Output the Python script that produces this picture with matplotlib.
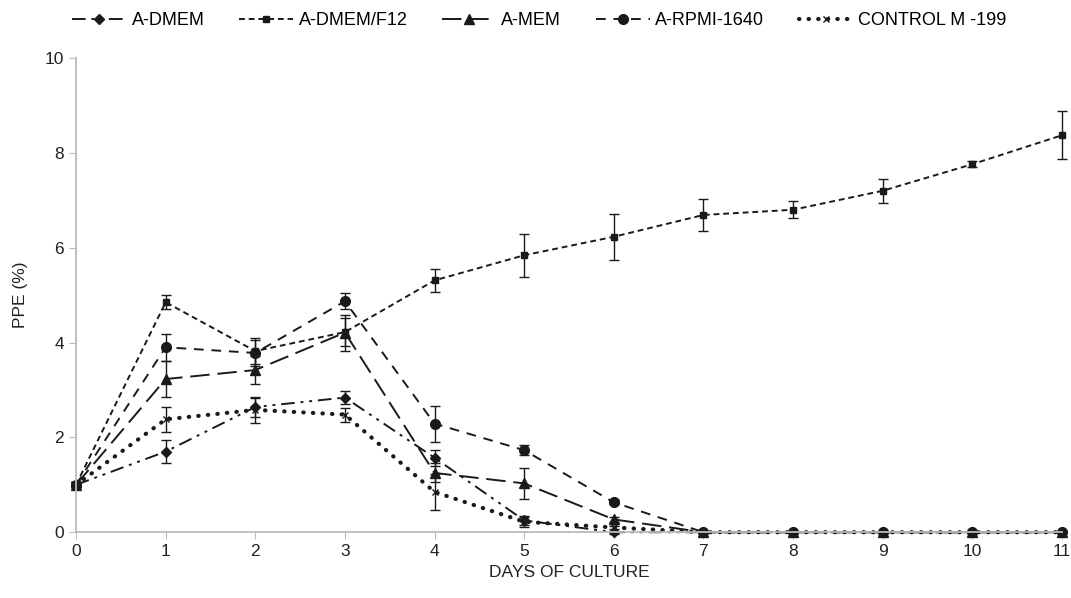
import numpy as np
import matplotlib.pyplot as plt
from matplotlib.lines import Line2D

plt.rcParams['font.family'] = ['Liberation Sans', 'DejaVu Sans']

days = list(range(12))

dmem = [1.0, 1.70, 2.64, 2.84, 1.57, 0.25, 0.0, 0.0, 0.0, 0.0, 0.0, 0.0]
dmem_err = [0.05, 0.25, 0.20, 0.14, 0.17, 0.10, 0.03, 0, 0, 0, 0, 0]

f12 = [1.0, 4.85, 3.82, 4.22, 5.31, 5.84, 6.23, 6.69, 6.80, 7.20, 7.76, 8.37]
f12_err = [0.05, 0.15, 0.27, 0.30, 0.24, 0.45, 0.49, 0.33, 0.18, 0.25, 0.06, 0.51]

mem = [1.0, 3.23, 3.42, 4.21, 1.25, 1.03, 0.27, 0.0, 0.0, 0.0, 0.0, 0.0]
mem_err = [0.05, 0.38, 0.30, 0.38, 0.20, 0.32, 0.05, 0, 0, 0, 0, 0]

rpmi = [1.0, 3.90, 3.78, 4.87, 2.29, 1.73, 0.63, 0.0, 0.0, 0.0, 0.0, 0.0]
rpmi_err = [0.05, 0.28, 0.27, 0.17, 0.38, 0.10, 0.04, 0, 0, 0, 0, 0]

ctrl = [1.0, 2.38, 2.58, 2.48, 0.85, 0.22, 0.10, 0.0, 0.0, 0.0, 0.0, 0.0]
ctrl_err = [0.05, 0.26, 0.27, 0.15, 0.38, 0.10, 0.03, 0, 0, 0, 0, 0]

labels = ['A-DMEM', 'A-DMEM/F12', 'A-MEM', 'A-RPMI-1640', 'CONTROL M -199']

fig, ax = plt.subplots(figsize=(10.71, 5.98), dpi=100)
fig.subplots_adjust(left=0.071, right=0.9915, top=0.903, bottom=0.11)

c = '#1a1a1a'
styles = [
    dict(marker='D', ms=5, dashes=(7, 3, 1.5, 3, 1.5, 3), lw=1.4),
    dict(marker='s', ms=4.5, dashes=(3, 2), lw=1.4),
    dict(marker='^', ms=7, dashes=(10, 4), lw=1.4),
    dict(marker='o', ms=7, dashes=(5, 4), lw=1.4),
    dict(marker='x', ms=4, ls=(0, (0.1, 2.2)), dash_capstyle='round', lw=3.0),
]
series = [(dmem, dmem_err), (f12, f12_err), (mem, mem_err), (rpmi, rpmi_err), (ctrl, ctrl_err)]

handles = []
for (vals, err), st, lab in zip(series, styles, labels):
    cont = ax.errorbar(days, vals, yerr=err, color=c, ecolor=c, elinewidth=1.0,
                       capsize=3.5, capthick=1.0, **st)
    for art in [cont[0], *cont[1], *cont[2]]:
        art.set_clip_on(False)
    handles.append(Line2D([], [], color=c, **st))

ax.set_xlim(0, 11)
ax.set_ylim(0, 10)
ax.set_xticks(days)
ax.set_yticks([0, 2, 4, 6, 8, 10])
ax.tick_params(labelsize=12.5, colors='#222222', length=5)
ax.tick_params(axis='both', color='#bbbbbb')
for s in ['top', 'right']:
    ax.spines[s].set_visible(False)
for s in ['left', 'bottom']:
    ax.spines[s].set_color('#bbbbbb')
    ax.spines[s].set_linewidth(1.3)

ax.set_xlabel('DAYS OF CULTURE', fontsize=12.5, color='#222222')
ax.set_ylabel('PPE (%)', fontsize=12.5, color='#222222', labelpad=12)

ax.legend(handles, labels, loc='lower center', bbox_to_anchor=(0.47, 1.045), ncol=5,
          frameon=False, fontsize=13, handlelength=3.0, columnspacing=1.9,
          handletextpad=0.3, borderaxespad=0)

plt.savefig('out.png', dpi=100)
